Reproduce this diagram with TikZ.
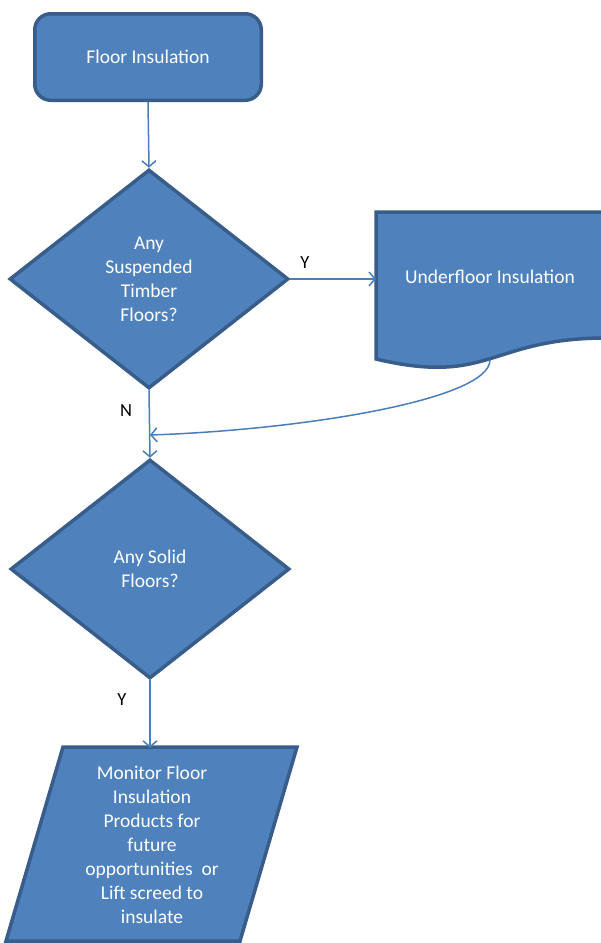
\documentclass[tikz,border=0pt]{standalone}
\usepackage{fontspec}
\setmainfont{Carlito}
\usetikzlibrary{shapes.geometric,arrows.meta}
\definecolor{boxfill}{HTML}{4F81BD}
\definecolor{boxline}{HTML}{385D8A}
\definecolor{conn}{HTML}{4A7EBB}
\tikzset{
  x=1pt,y=1pt,
  shapestyle/.style={fill=boxfill,draw=boxline,line width=3.5pt,line join=miter},
  boxtext/.style={text=white,font=\fontsize{19.5}{24}\selectfont,align=center},
  decision/.style={shape=diamond,shapestyle,boxtext,minimum width=279pt,minimum height=219pt,inner sep=0pt},
  conarrow/.style={draw=conn,line width=1.5pt,-{Straight Barb[length=6pt,width=14pt,line width=1.5pt]}},
  lbl/.style={text=black,font=\fontsize{18.5}{22}\selectfont}
}
\begin{document}
\begin{tikzpicture}
\clip (0,0) rectangle (601,-943);
\fill[white] (0,0) rectangle (601,-943);

% start
\node[shapestyle,boxtext,rounded corners=16pt,minimum width=226.5pt,minimum height=86.5pt] (start) at (148,-57) {Floor Insulation};

% decision 1
\node[decision] (d1) at (149,-279) {Any\\Suspended\\Timber\\Floors?};

% document shape
\path[shapestyle] (376,-212) -- (606,-212) -- (606,-338)
  .. controls (490,-338) and (490,-386) .. (376,-359) -- cycle;
\node[boxtext,minimum width=228pt] (doc) at (490,-277) {Underfloor Insulation};
\coordinate (docb) at (490,-360);

% decision 2
\node[decision] (d2) at (150,-569) {Any Solid\\Floors?};

% parallelogram
\path[shapestyle] (63,-747) -- (297,-747) -- (240,-941) -- (6,-941) -- cycle;
\node[boxtext,minimum width=180pt,minimum height=194pt] (mon) at (152,-845)
  {Monitor Floor\\Insulation\\Products for\\future\\opportunities\ \ or\\Lift screed to\\insulate};

\coordinate (join) at (150,-435);

% connectors
\draw[conarrow] (start.south) -- (d1.north);
\draw[conarrow] (d1.east) -- (d1.east -| 376,0);
\draw[conarrow] (docb) .. controls (490,-400) and (300,-430) .. (join);
\draw[conarrow] (d1.south) -- (d2.north);
\draw[conarrow] (d2.south) -- (d2.south |- mon.north);

% labels
\node[lbl] (ly1) at (305,-263) {Y};
\node[lbl] (ln) at (126,-411) {N};
\node[lbl] (ly2) at (122,-700) {Y};
\end{tikzpicture}
\end{document}
